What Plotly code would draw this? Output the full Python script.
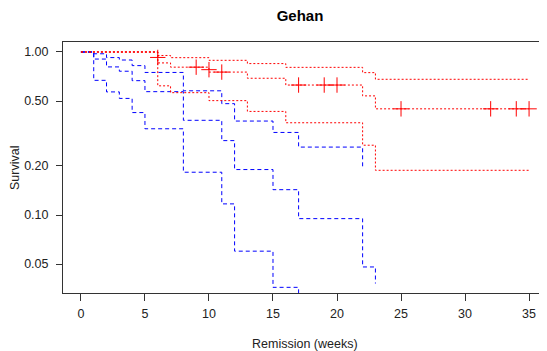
import plotly.graph_objects as go

# Control group (Kaplan-Meier step values)
ctrl_time = [0, 1, 2, 3, 4, 5, 8, 11, 12, 15, 17, 22, 23]
ctrl_surv = [1.0, 0.905, 0.810, 0.762, 0.667, 0.571, 0.381, 0.286, 0.190, 0.143, 0.095, 0.048, 0.038]
ctrl_ci_time = [0, 1, 2, 3, 4, 5, 8, 11, 12, 15, 17, 22]
ctrl_upper = [1.0, 0.975, 0.924, 0.893, 0.825, 0.749, 0.578, 0.482, 0.377, 0.321, 0.261, 0.197]
ctrl_lower = [1.0, 0.670, 0.569, 0.519, 0.425, 0.338, 0.183, 0.117, 0.060, 0.036, 0.016, 0.003]

# 6-MP group
trt_time = [0, 6, 7, 10, 13, 16, 22, 23, 35]
trt_surv = [1.0, 0.857, 0.807, 0.753, 0.690, 0.627, 0.538, 0.448, 0.448]
trt_upper = [1.0, 0.952, 0.923, 0.889, 0.849, 0.805, 0.747, 0.680, 0.680]
trt_lower = [1.0, 0.620, 0.563, 0.503, 0.432, 0.368, 0.268, 0.188, 0.188]
cens_time = [6, 9, 10, 11, 17, 19, 20, 25, 32, 34, 35]
cens_surv = [0.926, 0.807, 0.779, 0.753, 0.627, 0.627, 0.627, 0.448, 0.448, 0.448, 0.448]

x_ticks = [0, 5, 10, 15, 20, 25, 30, 35]
y_ticks = [1.0, 0.5, 0.2, 0.1, 0.05]
y_ticklabels = ["1.00", "0.50", "0.20", "0.10", "0.05"]

BLUE = "#0000FF"
RED = "#FF0000"
blue_dash = "4px,3px"
red_dot = "2px,2px"

fig = go.Figure()

def step(x, y, color, dash):
    fig.add_trace(go.Scatter(x=x, y=y, mode="lines", line_shape="hv",
                             line=dict(color=color, width=1, dash=dash),
                             hoverinfo="skip", showlegend=False))

step(ctrl_ci_time, ctrl_upper, BLUE, blue_dash)
step(ctrl_ci_time, ctrl_lower, BLUE, blue_dash)
step(ctrl_time, ctrl_surv, BLUE, blue_dash)
step(trt_time, trt_upper, RED, red_dot)
step(trt_time, trt_lower, RED, red_dot)
step(trt_time, trt_surv, RED, red_dot)
fig.add_trace(go.Scatter(x=cens_time, y=cens_surv, mode="markers",
                         marker=dict(symbol="cross-thin", size=11,
                                     line=dict(color=RED, width=1)),
                         hoverinfo="skip", showlegend=False))

FONT = "Liberation Sans, Arial, sans-serif"
OFF = 8  # page body margin
PW, PH = 547, 351  # page size
W, H = PW - OFF, PH - OFF
# plot area in page pixels: x 63..547, y 42..293
L, R, T, B = 63 - OFF, 0, 42 - OFF, PH - 293
pw, ph = W - L - R, H - T - B

fig.update_layout(
    width=W, height=H,
    margin=dict(l=L, r=R, t=T, b=B, autoexpand=False),
    paper_bgcolor="white", plot_bgcolor="white",
    font=dict(family=FONT, size=12.5, color="#222"),
    title=dict(text="<b>Gehan</b>", x=(300 - OFF) / W, xanchor="center",
               y=1 - (16 - OFF) / H, yanchor="middle", xref="container", yref="container",
               font=dict(family=FONT, size=15, color="#000")),
    xaxis=dict(range=[-1.4, 36.4], tickmode="array", tickvals=x_ticks,
               ticks="outside", ticklen=7, tickcolor="#333", tickwidth=1,
               showline=True, linecolor="#333", linewidth=1, mirror=True,
               showgrid=False, zeroline=False, ticklabelstandoff=2),
    yaxis=dict(type="log", range=[-1.4785, 0.0613], tickmode="array",
               tickvals=y_ticks, ticktext=y_ticklabels,
               ticks="outside", ticklen=6, tickcolor="#333", tickwidth=1,
               showline=True, linecolor="#333", linewidth=1, mirror=False,
               showgrid=False, zeroline=False, ticklabelstandoff=5),
    annotations=[
        dict(text="Remission (weeks)", xref="paper", yref="paper",
             x=(304.5 - 63) / pw, y=(293 - 344) / ph, xanchor="center",
             yanchor="middle", showarrow=False, font=dict(family=FONT, size=12.5, color="#222")),
        dict(text="Survival", xref="paper", yref="paper",
             x=(15 - 63) / pw, y=(293 - 168) / ph, xanchor="center",
             yanchor="middle", textangle=-90, showarrow=False,
             font=dict(family=FONT, size=12.5, color="#222")),
    ],
)

fig.write_html("out.html")
